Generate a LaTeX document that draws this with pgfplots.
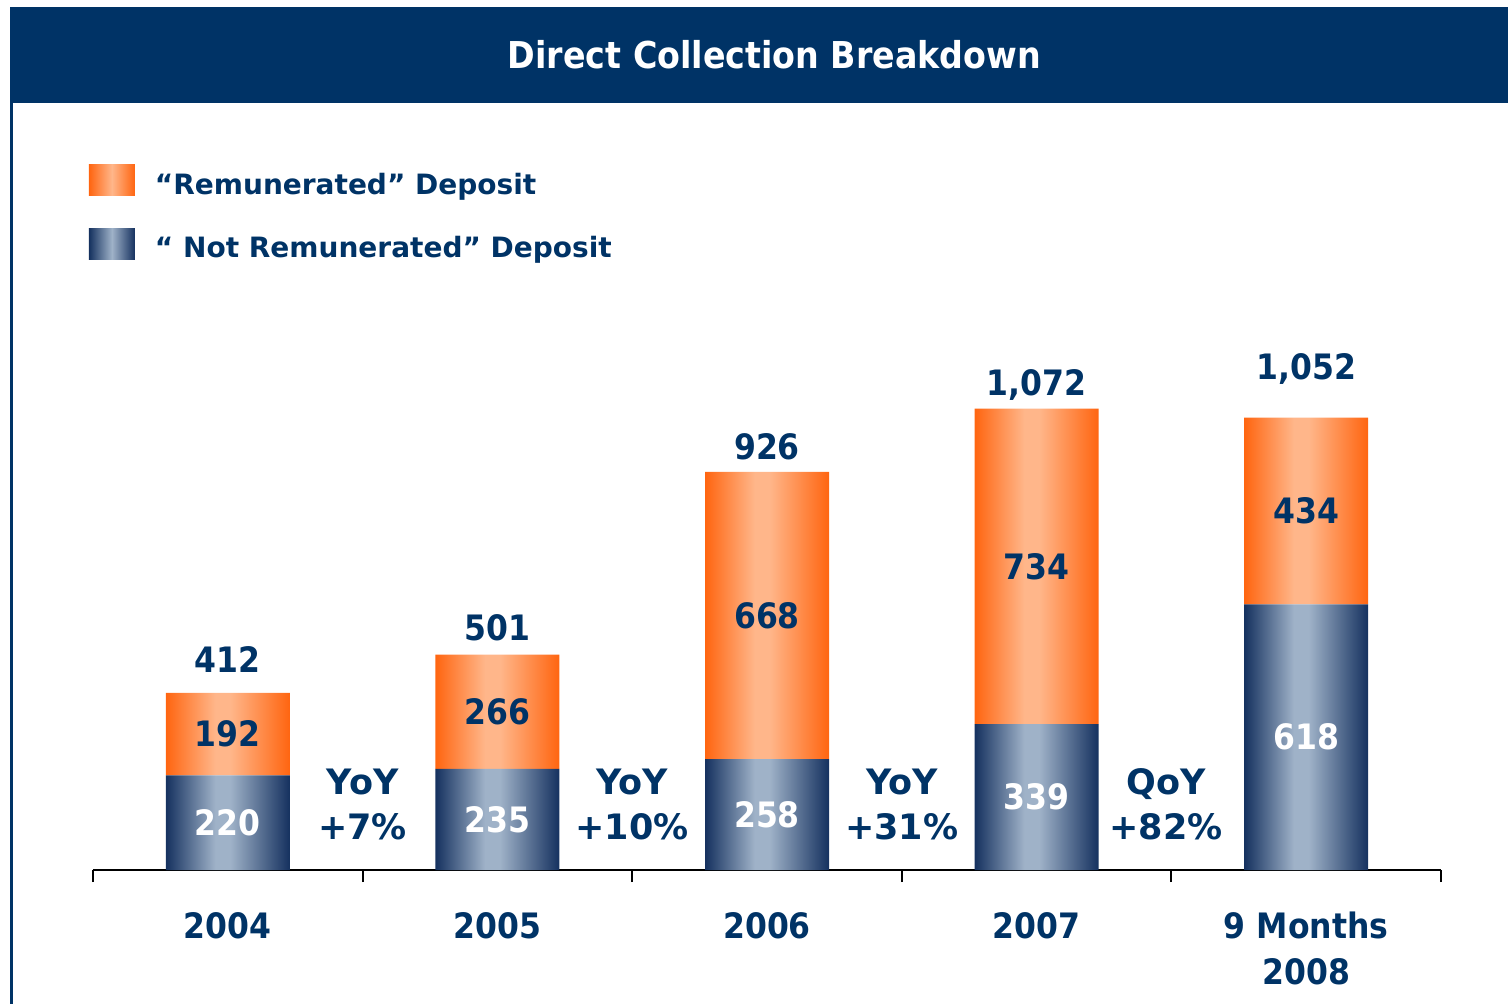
\documentclass[border=0pt]{standalone}
\usepackage{pgfplots}
\pgfplotsset{compat=1.18}
\usepackage{pgfplotstable}
\usepackage{fontspec}
\setmainfont{DejaVu Sans Condensed}[BoldFont={DejaVu Sans Condensed Bold}]
\newfontfamily\legfont{DejaVu Sans}[BoldFont={DejaVu Sans Bold}]
\definecolor{navy}{HTML}{003366}
\definecolor{orDark}{HTML}{FF6510}
\definecolor{orLight}{HTML}{FFB68A}
\definecolor{nvDark}{HTML}{15315F}
\definecolor{nvLight}{HTML}{9FB2C8}

% one gradient per bar: bars span 25bp..75bp of the shading (5 bars, width 5.156bp, pitch 11.211bp)
\pgfdeclarehorizontalshading{orbars}{100bp}{rgb(0bp)=(1,0.396,0.063); rgb(25bp)=(1,0.396,0.063); rgb(27.063bp)=(1,0.714,0.541); rgb(27.681bp)=(1,0.714,0.541); rgb(30.156bp)=(1,0.396,0.063); rgb(36.211bp)=(1,0.396,0.063); rgb(38.274bp)=(1,0.714,0.541); rgb(38.892bp)=(1,0.714,0.541); rgb(41.367bp)=(1,0.396,0.063); rgb(47.422bp)=(1,0.396,0.063); rgb(49.485bp)=(1,0.714,0.541); rgb(50.103bp)=(1,0.714,0.541); rgb(52.578bp)=(1,0.396,0.063); rgb(58.633bp)=(1,0.396,0.063); rgb(60.696bp)=(1,0.714,0.541); rgb(61.314bp)=(1,0.714,0.541); rgb(63.789bp)=(1,0.396,0.063); rgb(69.844bp)=(1,0.396,0.063); rgb(71.907bp)=(1,0.714,0.541); rgb(72.525bp)=(1,0.714,0.541); rgb(75bp)=(1,0.396,0.063); rgb(100bp)=(1,0.396,0.063)}
\pgfdeclarehorizontalshading{nvbars}{100bp}{rgb(0bp)=(0.082,0.192,0.373); rgb(25bp)=(0.082,0.192,0.373); rgb(27.063bp)=(0.624,0.698,0.784); rgb(27.681bp)=(0.624,0.698,0.784); rgb(30.156bp)=(0.082,0.192,0.373); rgb(36.211bp)=(0.082,0.192,0.373); rgb(38.274bp)=(0.624,0.698,0.784); rgb(38.892bp)=(0.624,0.698,0.784); rgb(41.367bp)=(0.082,0.192,0.373); rgb(47.422bp)=(0.082,0.192,0.373); rgb(49.485bp)=(0.624,0.698,0.784); rgb(50.103bp)=(0.624,0.698,0.784); rgb(52.578bp)=(0.082,0.192,0.373); rgb(58.633bp)=(0.082,0.192,0.373); rgb(60.696bp)=(0.624,0.698,0.784); rgb(61.314bp)=(0.624,0.698,0.784); rgb(63.789bp)=(0.082,0.192,0.373); rgb(69.844bp)=(0.082,0.192,0.373); rgb(71.907bp)=(0.624,0.698,0.784); rgb(72.525bp)=(0.624,0.698,0.784); rgb(75bp)=(0.082,0.192,0.373); rgb(100bp)=(0.082,0.192,0.373)}

% nodes near coords sit at the middle of each stacked segment
% segment label: vertically centred on that point
\protected\def\segl#1{\makebox[0pt]{\raisebox{-6.38pt}{#1}}}
% total label #1: baseline #3 pt above the top of a segment of value #2 (0.215pt per unit)
\protected\def\totl#1#2#3{\makebox[0pt]{\raisebox{\dimexpr0.1075pt*#2+#3pt\relax}{#1}}}

\pgfplotstableread{
x notrem rem lN lR
0 220 192 \segl{220} \segl{192}\totl{412}{192}{10}
1 235 266 \segl{235} \segl{266}\totl{501}{266}{7}
2 258 668 \segl{258} \segl{668}\totl{926}{668}{6}
3 339 734 \segl{339} \segl{734}\totl{1,072}{734}{6.5}
4 618 434 \segl{618} \segl{434}\totl{1,052}{434}{19}
}\datatable

\begin{document}
\begin{tikzpicture}
\useasboundingbox (0,0) rectangle (754pt,-502pt);
\fill[navy] (5pt,-3.5pt) rectangle (754pt,-51.5pt);
\fill[navy] (5pt,-51.5pt) rectangle (6.25pt,-502pt);
\node[anchor=base, text=white, font=\fontsize{18.5}{22}\selectfont\bfseries, inner sep=0pt] at (387.25pt,-34.5pt) {Direct Collection Breakdown};
\begin{axis}[
  at={(46.5pt,-435pt)}, anchor=south west,
  x=134.8pt, y=0.215pt,
  xmin=-0.5, xmax=4.5, ymin=0, ymax=1650,
  axis x line*=bottom, axis y line=none,
  axis line style={black, line width=1pt},
  xtick={0,...,4},
  xticklabels={2004,2005,2006,2007,{9 Months\\2008}},
  major tick length=0pt,
  minor xtick={-0.5,0.5,1.5,2.5,3.5,4.5},
  minor tick length=6pt,
  tick align=outside,
  minor tick style={black, line width=1pt},
  xticklabel style={anchor=north, yshift=-21pt, align=center, text=navy, inner sep=0pt, font=\fontsize{17.5}{23}\selectfont\bfseries},
  ybar stacked, bar width=62pt,
  clip=false,
  legend style={at={(axis description cs:-0.003,0.9937)}, anchor=north west, draw=none, fill=none,
    inner sep=0pt, outer sep=0pt, row sep=15.5pt, column sep=10pt,
    font=\legfont\fontsize{14}{16}\selectfont\bfseries, text=navy,
    nodes={inner sep=0pt}},
  legend cell align=left,
  reverse legend,
]
\addplot[draw=none, shading=nvbars,
  legend image code/.code={\path[left color=nvDark,right color=nvDark,middle color=nvLight] (0pt,-5.5pt) rectangle (23pt,10pt);},
  point meta=explicit symbolic, nodes near coords,
  every node near coord/.style={anchor=base, text=white, inner sep=0pt, font=\fontsize{17.5}{20}\selectfont\bfseries}]
  table[x=x, y=notrem, meta=lN] {\datatable};
\addlegendentry{“ Not Remunerated” Deposit}
\addplot[draw=none, shading=orbars,
  legend image code/.code={\path[left color=orDark,right color=orDark,middle color=orLight] (0pt,-5.5pt) rectangle (23pt,10pt);},
  point meta=explicit symbolic, nodes near coords,
  every node near coord/.style={anchor=base, text=navy, inner sep=0pt, font=\fontsize{17.5}{20}\selectfont\bfseries}]
  table[x=x, y=rem, meta=lR] {\datatable};
\addlegendentry{“Remunerated” Deposit}
\node[anchor=base, align=center, text=navy, inner sep=0pt, font=\legfont\fontsize{17.5}{22.5}\selectfont\bfseries] at (axis cs:0.5,70) {YoY\\+7\%};
\node[anchor=base, align=center, text=navy, inner sep=0pt, font=\legfont\fontsize{17.5}{22.5}\selectfont\bfseries] at (axis cs:1.5,70) {YoY\\+10\%};
\node[anchor=base, align=center, text=navy, inner sep=0pt, font=\legfont\fontsize{17.5}{22.5}\selectfont\bfseries] at (axis cs:2.5,70) {YoY\\+31\%};
\node[anchor=base, align=center, text=navy, inner sep=0pt, font=\legfont\fontsize{17.5}{22.5}\selectfont\bfseries] at (axis cs:3.48,70) {QoY\\+82\%};
\end{axis}
\end{tikzpicture}
\end{document}
